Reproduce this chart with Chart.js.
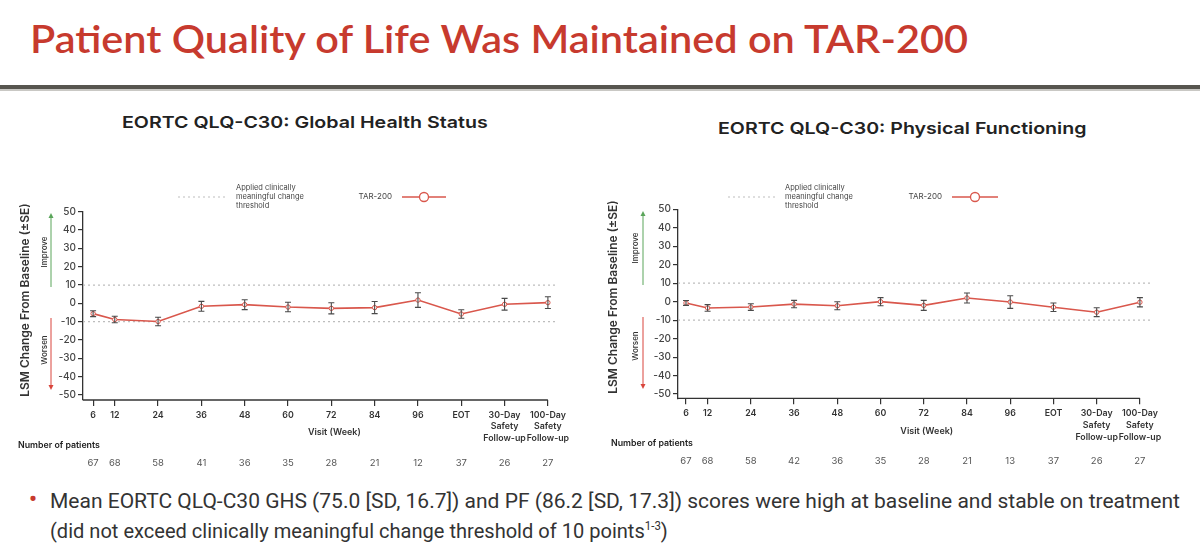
<!DOCTYPE html>
<html lang="en">
<head>
<meta charset="UTF-8">
<title>Patient Quality of Life Was Maintained on TAR-200</title>
<script src="https://cdn.jsdelivr.net/npm/chart.js"></script>
<style>
  body { margin: 0; width: 1200px; height: 551px; position: relative; overflow: hidden; background: #fff; }
  .txt { position: absolute; white-space: nowrap; transform-origin: left top; }
  #titulo { left: 30px; top: 19px; font: 600 38px Lato, sans-serif; line-height: 38px; color: #c73a2e; }
  .regua { position: absolute; left: 0; width: 1200px; }
  .subtitulo { font: 600 16.5px Inter, sans-serif; color: #222; line-height: 20px; }
  .nota { font: 400 21px Roboto, sans-serif; color: #333; line-height: 25px; }
  canvas { position: absolute; top: 100px; }
</style>
</head>
<body>
  <div id="titulo" class="txt" data-w="938">Patient Quality of Life Was Maintained on TAR-200</div>
  <div class="regua" style="top:85px;height:4px;background:#57554f"></div>
  <div class="regua" style="top:89px;height:2px;background:#c9c8c4"></div>

  <div class="txt subtitulo" style="left:122px;top:112px" data-w="366">EORTC QLQ-C30: Global Health Status</div>
  <div class="txt subtitulo" style="left:718px;top:118px" data-w="368">EORTC QLQ-C30: Physical Functioning</div>

  <canvas id="grafico_ghs" width="600" height="380" style="left:0"></canvas>
  <canvas id="grafico_pf" width="600" height="380" style="left:600px"></canvas>

  <div class="txt" style="left:29px;top:486px;font:700 22px Roboto;color:#c73a2e">•</div>
  <div class="txt nota" style="left:50px;top:489px" data-w="1130">Mean EORTC QLQ-C30 GHS (75.0 [SD, 16.7]) and PF (86.2 [SD, 17.3]) scores were high at baseline and stable on treatment</div>
  <div class="txt nota" style="left:50px;top:514px" data-w="618">(did not exceed clinically meaningful change threshold of 10 points<sup style="font-size:12px">1-3</sup>)</div>

<script>
// visitas (semana) - EOT e follow-ups ficam em posicoes extra no eixo
const visitLabels = ['6', '12', '24', '36', '48', '60', '72', '84', '96', 'EOT', ['30-Day', 'Safety', 'Follow-up'], ['100-Day', 'Safety', 'Follow-up']];
const visitPos = [6, 12, 24, 36, 48, 60, 72, 84, 96, 108, 120, 132];
const yTicks = [50, 40, 30, 20, 10, 0, -10, -20, -30, -40, -50];
const threshold = [10, -10];

// Global Health Status
const ghsMean = [-5.6, -8.8, -9.9, -1.6, -0.7, -2.0, -2.7, -2.3, 1.8, -5.8, -0.5, 0.4];
const ghsSE = [1.6, 1.8, 2.3, 2.7, 2.7, 2.6, 3.0, 3.3, 4.0, 2.3, 3.2, 3.2];
const ghsN = [67, 68, 58, 41, 36, 35, 28, 21, 12, 37, 26, 27];

// Physical Functioning
const pfMean = [-0.7, -3.4, -2.9, -1.3, -2.2, 0.0, -2.0, 2.0, -0.2, -3.0, -5.7, -0.3];
const pfSE = [1.3, 1.8, 1.8, 2.0, 2.2, 2.2, 2.7, 2.7, 3.4, 2.3, 2.4, 2.5];
const pfN = [67, 68, 58, 42, 36, 35, 28, 21, 13, 37, 26, 27];

const RED = '#d9574c';
const FONTE = 'Inter, sans-serif';

function seta(ctx, x, y1, y2, cor) {
    // linha com ponta em y2
    ctx.strokeStyle = cor; ctx.fillStyle = cor; ctx.lineWidth = 1;
    ctx.beginPath(); ctx.moveTo(x, y1); ctx.lineTo(x, y2); ctx.stroke();
    const d = y2 < y1 ? -1 : 1;
    ctx.beginPath();
    ctx.moveTo(x, y2 + d * 2);
    ctx.lineTo(x - 2.5, y2 - d * 3);
    ctx.lineTo(x + 2.5, y2 - d * 3);
    ctx.closePath(); ctx.fill();
}

const decor = {
    id: 'decor',
    afterDatasetsDraw(chart, args, o) {
        const ctx = chart.ctx, a = chart.chartArea, x = chart.scales.x, y = chart.scales.y;
        const pts = chart.data.datasets[0].data;
        ctx.save();
        // barras de erro (±SE)
        ctx.strokeStyle = '#4a4a4a'; ctx.lineWidth = 1.1;
        pts.forEach((p, i) => {
            const px = x.getPixelForValue(p.x);
            const lo = y.getPixelForValue(p.y - o.se[i]);
            const hi = y.getPixelForValue(p.y + o.se[i]);
            ctx.beginPath();
            ctx.moveTo(px, lo); ctx.lineTo(px, hi);
            ctx.moveTo(px - 3, lo); ctx.lineTo(px + 3, lo);
            ctx.moveTo(px - 3, hi); ctx.lineTo(px + 3, hi);
            ctx.stroke();
        });
        // linha do eixo x ate o ultimo tick
        ctx.strokeStyle = '#333'; ctx.lineWidth = 1.3;
        ctx.beginPath();
        ctx.moveTo(a.left, a.bottom);
        ctx.lineTo(x.getPixelForValue(visitPos[visitPos.length - 1]), a.bottom);
        ctx.stroke();
        ctx.restore();
    },
    afterDraw(chart, args, o) {
        const ctx = chart.ctx, a = chart.chartArea, x = chart.scales.x;
        ctx.save();
        ctx.textBaseline = 'middle';

        // titulo do eixo y
        ctx.save();
        ctx.translate(o.yTitleX, o.yTitleY);
        ctx.rotate(-Math.PI / 2);
        ctx.textAlign = 'center';
        ctx.fillStyle = '#333';
        ctx.font = '600 12px ' + FONTE;
        ctx.fillText('LSM Change From Baseline (±SE)', 0, 0);
        ctx.restore();

        // Improve / Worsen
        ctx.font = '500 8px ' + FONTE;
        ctx.fillStyle = '#333';
        ctx.textAlign = 'center';
        [['Improve', o.impY], ['Worsen', o.worY]].forEach(t => {
            ctx.save();
            ctx.translate(o.arrTextX, t[1]);
            ctx.rotate(-Math.PI / 2);
            ctx.fillText(t[0], 0, 0);
            ctx.restore();
        });
        seta(ctx, o.arrX, o.impArrow[1], o.impArrow[0], '#5aa55a');
        seta(ctx, o.arrX, o.worArrow[0], o.worArrow[1], '#d9453c');

        // legenda
        ctx.strokeStyle = '#bdbdbd'; ctx.lineWidth = 1; ctx.setLineDash([2, 3]);
        ctx.beginPath(); ctx.moveTo(o.legDot[0], o.legY); ctx.lineTo(o.legDot[1], o.legY); ctx.stroke();
        ctx.setLineDash([]);
        ctx.font = '400 7.5px ' + FONTE;
        ctx.fillStyle = '#444';
        ctx.textAlign = 'left';
        ['Applied clinically', 'meaningful change', 'threshold'].forEach((s, i) => {
            ctx.fillText(s, o.legDot[1] + 10, o.legY - 9 + i * 9);
        });
        ctx.textAlign = 'right';
        ctx.font = '400 8px ' + FONTE;
        ctx.fillText('TAR-200', o.legTar[0] - 10, o.legY);
        ctx.strokeStyle = RED; ctx.lineWidth = 1.3;
        ctx.beginPath(); ctx.moveTo(o.legTar[0], o.legY); ctx.lineTo(o.legTar[1], o.legY); ctx.stroke();
        const cx = (o.legTar[0] + o.legTar[1]) / 2;
        ctx.fillStyle = '#fff';
        ctx.beginPath(); ctx.arc(cx, o.legY, 4.5, 0, Math.PI * 2); ctx.fill(); ctx.stroke();

        // titulo eixo x
        ctx.fillStyle = '#333';
        ctx.textAlign = 'center';
        ctx.font = '600 9px ' + FONTE;
        ctx.fillText('Visit (Week)', x.getPixelForValue(72) + 3, a.bottom + 32.5);

        // numero de pacientes
        ctx.textAlign = 'left';
        ctx.fillStyle = '#222';
        ctx.font = '600 8.8px ' + FONTE;
        ctx.fillText('Number of patients', o.nLabelX, a.bottom + 45);
        ctx.textAlign = 'center';
        ctx.fillStyle = '#555';
        ctx.font = '400 9.5px ' + FONTE;
        o.counts.forEach((n, i) => {
            ctx.fillText(String(n), x.getPixelForValue(visitPos[i]), a.bottom + 63);
        });
        ctx.restore();
    }
};

function criar_grafico(id, media, se, contagem, g) {
    const serie = visitPos.map((v, i) => ({ x: v, y: media[i] }));
    const linha = t => [{ x: g.xmin, y: t }, { x: g.xmax, y: t }];
    return new Chart(document.getElementById(id), {
        type: 'line',
        data: {
            datasets: [
                { label: 'TAR-200', data: serie, borderColor: RED, borderWidth: 1.6, tension: 0,
                  pointRadius: 2.2, pointBorderColor: RED, pointBackgroundColor: '#fff', pointBorderWidth: 1, order: 1 },
                { label: 'threshold up', data: linha(threshold[0]), borderColor: '#bdbdbd', borderDash: [2, 3],
                  borderWidth: 1.2, pointRadius: 0, order: 2 },
                { label: 'threshold down', data: linha(threshold[1]), borderColor: '#bdbdbd', borderDash: [2, 3],
                  borderWidth: 1.2, pointRadius: 0, order: 2 }
            ]
        },
        options: {
            responsive: false,
            animation: false,
            layout: { padding: g.pad },
            plugins: {
                legend: { display: false },
                tooltip: { enabled: false },
                decor: Object.assign({ se: se, counts: contagem }, g.decor)
            },
            scales: {
                x: {
                    type: 'linear', min: g.xmin, max: g.xmax,
                    afterBuildTicks: s => { s.ticks = visitPos.map(v => ({ value: v })); },
                    afterFit: s => { s.height = 80; },
                    border: { display: false },
                    grid: { drawOnChartArea: false, drawTicks: true, tickLength: 6, color: '#333', lineWidth: 1.2 },
                    ticks: {
                        autoSkip: false, maxRotation: 0, padding: 3, color: '#333',
                        font: { family: FONTE, size: 8.8, weight: '600', lineHeight: 1.35 },
                        callback: v => visitLabels[visitPos.indexOf(v)]
                    }
                },
                y: {
                    min: g.ymin, max: 50,
                    afterBuildTicks: s => { s.ticks = yTicks.map(v => ({ value: v })); },
                    afterFit: s => { s.width = 40; },
                    border: { display: true, color: '#333', width: 1.3 },
                    grid: { drawOnChartArea: false, drawTicks: true, tickLength: 5, color: '#333', lineWidth: 1.2 },
                    ticks: { padding: 2, color: '#444', font: { family: FONTE, size: 10, weight: '500' } }
                }
            }
        },
        plugins: [decor]
    });
}

criar_grafico('grafico_ghs', ghsMean, ghsSE, ghsN, {
    xmin: 3.2, xmax: 134.8, ymin: -52.7,
    pad: { left: 43, top: 111.7, right: 42, bottom: 0 },
    decor: {
        yTitleX: 25, yTitleY: 200, arrTextX: 45, arrX: 51,
        impY: 152, impArrow: [115, 187], worY: 250, worArrow: [218, 288],
        legY: 97, legDot: [178, 226], legTar: [402, 446], nLabelX: 18
    }
});

criar_grafico('grafico_pf', pfMean, pfSE, pfN, {
    xmin: 3.78, xmax: 134.8, ymin: -52.3,
    pad: { left: 38, top: 109.3, right: 50, bottom: 1.7 },
    decor: {
        yTitleX: 13, yTitleY: 197, arrTextX: 36, arrX: 43,
        impY: 148, impArrow: [113, 185], worY: 246, worArrow: [217, 287],
        legY: 97, legDot: [128, 175], legTar: [352, 398], nLabelX: 11
    }
});

// ajusta largura dos textos ao original
document.querySelectorAll('[data-w]').forEach(el => {
    const alvo = Number(el.dataset.w);
    el.style.transform = `scaleX(${alvo / el.offsetWidth})`;
});
</script>
</body>
</html>
